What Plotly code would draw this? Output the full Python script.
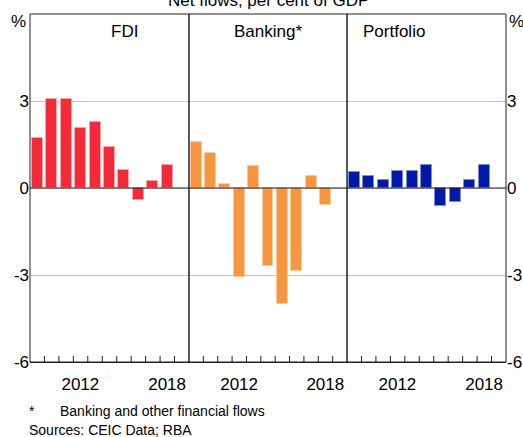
import plotly.graph_objects as go

years = [2009, 2010, 2011, 2012, 2013, 2014, 2015, 2016, 2017, 2018]
fdi = [1.72, 3.06, 3.08, 2.08, 2.27, 1.40, 0.63, -0.40, 0.24, 0.80]
banking = [1.58, 1.20, 0.13, -3.08, 0.75, -2.70, -4.00, -2.87, 0.43, -0.59]
portfolio = [0.56, 0.42, 0.29, 0.58, 0.57, 0.81, -0.63, -0.48, 0.26, 0.80]

panel_titles = ['FDI', 'Banking*', 'Portfolio']
colours = ['#f42a3b', '#f8963f', '#0019a8']
edge_colours = ['#f9a3ab', '#fbc99b', '#7f8cd3']
y_ticks = [-6, -3, 0, 3]
y_labels = ['-6', '-3', '0', '3']
year_labels = {2012: '2012', 2018: '2018'}

FONT = 'Arial, Liberation Sans, sans-serif'
domains = [[0, 0.334], [0.334, 0.666], [0.666, 1]]

# year boundaries; the labels are moved to the middle of the year
x_tickvals = [y - 0.5 for y in range(2009, 2021)]
x_ticktext = [year_labels.get(v + 0.5, '') for v in x_tickvals]
half_year_px = round(476 * 0.332 / 11 / 2)

fig = go.Figure()

series = [fdi, banking, portfolio]
for i, vals in enumerate(series):
	xname = 'x' if i == 0 else f'x{i + 1}'
	fig.add_trace(go.Bar(x=years, y=vals, xaxis=xname, yaxis='y',
						 width=0.76,
						 marker=dict(color=colours[i],
									 line=dict(color=edge_colours[i], width=1)),
						 showlegend=False))

# empty trace so the right hand axis gets drawn
fig.add_trace(go.Scatter(x=[None], y=[None], xaxis='x3', yaxis='y2',
						 showlegend=False, hoverinfo='skip'))

xaxis_style = dict(range=[2008.5, 2019.5],
				   tickmode='array', tickvals=x_tickvals, ticktext=x_ticktext,
				   ticks='', ticklabelshift=half_year_px, ticklabelstandoff=7,
				   tickfont=dict(size=17, color='black'),
				   showgrid=False, zeroline=False,
				   showline=True, linecolor='#222222', linewidth=1,
				   anchor='y', fixedrange=True, automargin=False)

layout = dict(
	width=523, height=437,
	margin=dict(l=30, r=17, t=14, b=75, autoexpand=False),
	paper_bgcolor='white', plot_bgcolor='white',
	font=dict(family=FONT, color='black'),
	bargap=0,
	yaxis=dict(range=[-6, 6], tickmode='array', tickvals=y_ticks, ticktext=y_labels,
			   ticks='', tickfont=dict(size=17), showgrid=True, gridcolor='#c4c4c4',
			   gridwidth=1, zeroline=False, showline=False, anchor='x', fixedrange=True,
			   automargin=False),
	yaxis2=dict(range=[-6, 6], tickmode='array', tickvals=y_ticks, ticktext=y_labels,
				ticks='', tickfont=dict(size=17), showgrid=False, zeroline=False,
				showline=False, overlaying='y', side='right', anchor='x3',
				fixedrange=True, automargin=False),
)
for i in range(3):
	key = 'xaxis' if i == 0 else f'xaxis{i + 1}'
	layout[key] = dict(xaxis_style, domain=domains[i])
fig.update_layout(**layout)

# small upward ticks on the inner year boundaries of each panel
for i in range(3):
	xref = 'x' if i == 0 else f'x{i + 1}'
	for v in x_tickvals[1:-1]:
		fig.add_shape(type='line', xref=xref, yref='y', x0=v, x1=v,
					  ysizemode='pixel', yanchor=-6, y0=0, y1=6,
					  line=dict(color='#222222', width=1), layer='above')

# zero line over the bars, and the panel boxes
fig.add_shape(type='line', xref='paper', yref='y', x0=0, x1=1, y0=0, y1=0,
			  line=dict(color='#222222', width=1), layer='above')
for d in domains:
	fig.add_shape(type='rect', xref='paper', yref='paper', x0=d[0], x1=d[1], y0=0, y1=1,
				  line=dict(color='#222222', width=1), layer='above')

# panel titles
for i, t in enumerate(panel_titles):
	fig.add_annotation(text=t, xref='paper', yref='paper',
					   x=(domains[i][0] + domains[i][1]) / 2, y=0.95, yanchor='middle',
					   showarrow=False, font=dict(size=17))

# units
fig.add_annotation(text='%', xref='paper', yref='paper', x=0, y=0.979, yanchor='middle',
				   xanchor='right', xshift=-2, showarrow=False, font=dict(size=17))
fig.add_annotation(text='%', xref='paper', yref='paper', x=1, y=0.979, yanchor='middle',
				   xanchor='left', xshift=1, showarrow=False, font=dict(size=17))

# title, cut off by the top of the picture as in the original
fig.add_annotation(text='Net flows, per cent of GDP', xref='paper', yref='paper',
				   x=0.5, y=1.005, yanchor='bottom', showarrow=False, font=dict(size=17))

# footnotes
fig.add_annotation(text='*', xref='paper', yref='paper', x=-0.006, y=-0.141,
				   xanchor='left', yanchor='middle', showarrow=False, font=dict(size=14))
fig.add_annotation(text='Banking and other financial flows', xref='paper', yref='paper',
				   x=0.059, y=-0.141, xanchor='left', yanchor='middle',
				   showarrow=False, font=dict(size=14))
fig.add_annotation(text='Sources: CEIC Data; RBA', xref='paper', yref='paper',
				   x=-0.006, y=-0.195, xanchor='left', yanchor='middle',
				   showarrow=False, font=dict(size=14))

# the page has a default body margin, drop it so the figure starts at the corner
fig.write_html('out.html', config={'displayModeBar': False},
			   post_script="document.body.style.margin='0px';")
